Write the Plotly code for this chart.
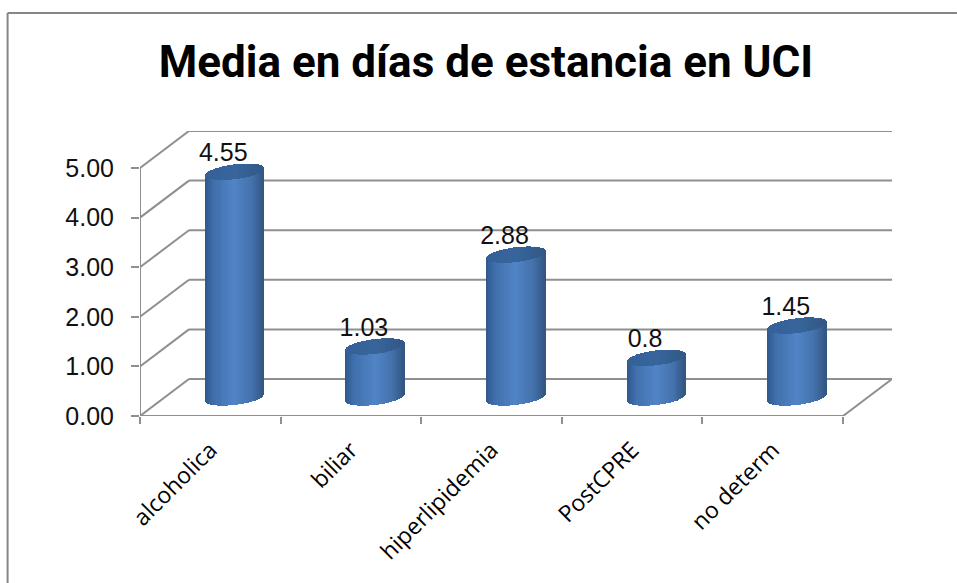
import numpy as np
import plotly.graph_objects as go

categories = ["alcoholica", "biliar", "hiperlipidemia", "PostCPRE", "no determ"]
values = [4.55, 1.03, 2.88, 0.8, 1.45]
value_labels = ["4.55", "1.03", "2.88", "0.8", "1.45"]
y_ticks = [0, 1, 2, 3, 4, 5]

W, H = 957, 583
LEFT, RIGHT_BACK, RIGHT_FRONT = 139.5, 892.0, 843.0
TOP_BACK, FRONT_ZERO, FRONT_FIVE = 131.0, 416.0, 168.0
X_UNIT = (RIGHT_FRONT - LEFT) / 5
Y_UNIT = (FRONT_ZERO - FRONT_FIVE) / 5
DEPTH_X = (RIGHT_BACK - RIGHT_FRONT) / X_UNIT
DEPTH_Y = (FRONT_FIVE - TOP_BACK) / Y_UNIT
GRID = "#8f8f8f"

# Cylinder shape, in axis units
HALF_W = 29.3 / X_UNIT
ELLIPSE_B = 7.4 / Y_UNIT
TILT = 3.5 / Y_UNIT
STRIPS = 60


def mix(stops, t):
    """Interpolate an RGB colour from (position, r, g, b) stops."""
    pos = [s[0] for s in stops]
    rgb = [np.interp(t, pos, [s[i] for s in stops]) for i in (1, 2, 3)]
    return "rgb(%d,%d,%d)" % tuple(rgb)


SIDE = [(0, 46, 88, 142), (0.15, 64, 112, 172), (0.5, 82, 133, 199),
        (0.8, 68, 114, 172), (1, 50, 86, 130)]
CAP = [(0, 52, 98, 152), (0.5, 56, 102, 156), (1, 50, 88, 134)]

u = np.linspace(-1, 1, STRIPS, endpoint=False) + 1 / STRIPS
arc = ELLIPSE_B * np.sqrt(1 - u ** 2)
strip_w = 2 * HALF_W / STRIPS * 1.25

body_x, body_base, body_h, body_c = [], [], [], []
cap_x, cap_base, cap_h, cap_c = [], [], [], []
for i, v in enumerate(values):
    cx = i + DEPTH_X / 2
    for uj, aj in zip(u, arc):
        lift = DEPTH_Y / 2 + TILT * uj
        t = (uj + 1) / 2
        body_x.append(cx + uj * HALF_W)
        body_base.append(lift - aj)
        body_h.append(v)
        body_c.append(mix(SIDE, t))
        cap_x.append(cx + uj * HALF_W)
        cap_base.append(v + lift - aj)
        cap_h.append(2 * aj)
        cap_c.append(mix(CAP, t))

fig = go.Figure()
fig.add_trace(go.Bar(x=body_x, y=body_h, base=body_base, width=strip_w,
                     marker=dict(color=body_c, line_width=0), hoverinfo="skip"))
fig.add_trace(go.Bar(x=cap_x, y=cap_h, base=cap_base, width=strip_w,
                     marker=dict(color=cap_c, line_width=0), hoverinfo="skip"))
fig.add_trace(go.Scatter(
    x=[i + DEPTH_X / 2 - 11.5 / X_UNIT for i in range(len(values))],
    y=[v + DEPTH_Y / 2 + 17 / Y_UNIT for v in values],
    mode="text", text=value_labels, textposition="middle center",
    textfont=dict(family="Liberation Sans", size=25, color="#111111"),
    hoverinfo="skip"))

x0, x1 = -0.5, 4.5
shapes = []


def seg(xa, ya, xb, yb):
    shapes.append(dict(type="line", xref="x", yref="y", layer="below",
                       x0=xa, y0=ya, x1=xb, y1=yb,
                       line=dict(color=GRID, width=2)))


# Back wall gridlines and the diagonals running to the front axis
for t in y_ticks:
    seg(x0 + DEPTH_X, t + DEPTH_Y, x1 + DEPTH_X, t + DEPTH_Y)
    seg(x0, t, x0 + DEPTH_X, t + DEPTH_Y)
seg(x0, 0, x0, y_ticks[-1])
seg(x0, 0, x1, 0)
seg(x1, 0, x1 + DEPTH_X, DEPTH_Y)

# Outer chart frame: left and top edges only
px = lambda p: (p - LEFT) / (RIGHT_BACK - LEFT)
py = lambda p: (FRONT_ZERO - p) / (FRONT_ZERO - TOP_BACK)
for a, b, c, d in [(7, 583, 7, 13), (7, 13, 957, 13)]:
    shapes.append(dict(type="line", xref="paper", yref="paper", layer="below",
                       x0=px(a), y0=py(b), x1=px(c), y1=py(d),
                       line=dict(color="#868686", width=2)))

fig.update_layout(
    width=W, height=H, showlegend=False, barmode="overlay", bargap=0,
    paper_bgcolor="white", plot_bgcolor="rgba(0,0,0,0)",
    margin=dict(l=LEFT, r=W - RIGHT_BACK, t=TOP_BACK, b=H - FRONT_ZERO,
                pad=0, autoexpand=False),
    shapes=shapes,
    title=dict(text="<b>Media en días de estancia en UCI</b>",
               x=486 / W, xanchor="center", y=1 - 62 / H, yanchor="middle",
               font=dict(family="Roboto", size=44, color="black")),
    xaxis=dict(range=[x0, x1 + DEPTH_X], tickmode="array",
               tickvals=list(range(len(categories))), ticktext=categories,
               tickangle=-45, ticks="", showgrid=False, zeroline=False,
               showline=False, ticklabelstandoff=15,
               tickfont=dict(family="Open Sans", size=23, color="black"),
               minor=dict(ticks="outside", ticklen=7, tickwidth=2,
                          tickcolor=GRID, tick0=-0.5, dtick=1, showgrid=False)),
    yaxis=dict(range=[0, y_ticks[-1] + DEPTH_Y], tickmode="array",
               tickvals=y_ticks, ticktext=["%.2f" % t for t in y_ticks],
               ticks="outside", ticklen=8, tickwidth=2, tickcolor=GRID,
               showgrid=False, zeroline=False, showline=False,
               ticklabelstandoff=12,
               tickfont=dict(family="Liberation Sans", size=25, color="#111111")),
)

fig.write_html("out.html")
